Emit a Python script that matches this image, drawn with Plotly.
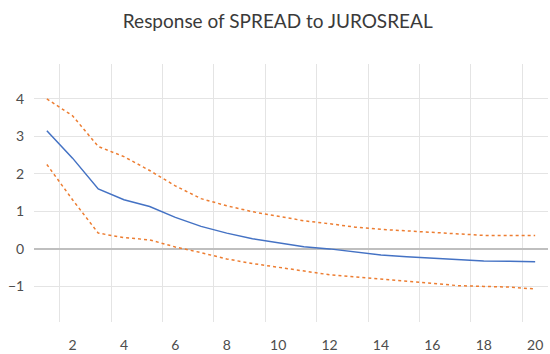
import plotly.graph_objects as go

periods = list(range(1, 21))
response = [3.15, 2.42, 1.6, 1.31, 1.13, 0.84, 0.6, 0.42, 0.27, 0.17,
            0.06, 0.0, -0.09, -0.16, -0.21, -0.25, -0.28, -0.32, -0.33, -0.34]
upper = [4.0, 3.55, 2.73, 2.46, 2.09, 1.68, 1.34, 1.15, 0.99, 0.86,
         0.75, 0.67, 0.58, 0.52, 0.48, 0.44, 0.42, 0.36, 0.36, 0.36]
lower = [2.25, 1.31, 0.42, 0.3, 0.24, 0.05, -0.1, -0.27, -0.39, -0.49,
         -0.6, -0.69, -0.75, -0.81, -0.87, -0.92, -0.98, -1.0, -1.02, -1.07]
x_ticks = [2, 4, 6, 8, 10, 12, 14, 16, 18, 20]
y_ticks = [-1, 0, 1, 2, 3, 4]
title_text = "Response of SPREAD to JUROSREAL"

fig = go.Figure()
fig.add_trace(go.Scatter(x=periods, y=upper, mode="lines",
                         line=dict(color="#ED7D31", width=1.5, dash="3px,3px")))
fig.add_trace(go.Scatter(x=periods, y=lower, mode="lines",
                         line=dict(color="#ED7D31", width=1.5, dash="3px,3px")))
fig.add_trace(go.Scatter(x=periods, y=response, mode="lines",
                         line=dict(color="#4472C4", width=1.5)))

fig.update_layout(
    width=550, height=354,
    margin=dict(l=34, r=2, t=64, b=32),
    paper_bgcolor="white", plot_bgcolor="white",
    showlegend=False,
    font=dict(family="Lato, Calibri, sans-serif", color="#4d4d4d", size=14),
    title=dict(text=title_text, x=0.505, xanchor="center", y=0.94, yanchor="middle",
               font=dict(size=19, color="#3a3a3a")),
)
fig.update_xaxes(
    range=[0.5, 20.5], tickvals=x_ticks, showgrid=False, zeroline=False,
    showline=False, ticks="outside", ticklen=10, tickcolor="rgba(0,0,0,0)",
    minor=dict(tick0=1.5, dtick=2, showgrid=True, gridcolor="#E4E4E4", gridwidth=1),
    fixedrange=True,
)
fig.update_yaxes(
    range=[-1.95, 4.93], tickvals=y_ticks, showgrid=True, gridcolor="#E4E4E4",
    zeroline=True, zerolinecolor="#BFBFBF", zerolinewidth=1.5,
    showline=False, ticks="outside", ticklen=6, tickcolor="rgba(0,0,0,0)",
    fixedrange=True,
)

fig.write_html("out.html")
